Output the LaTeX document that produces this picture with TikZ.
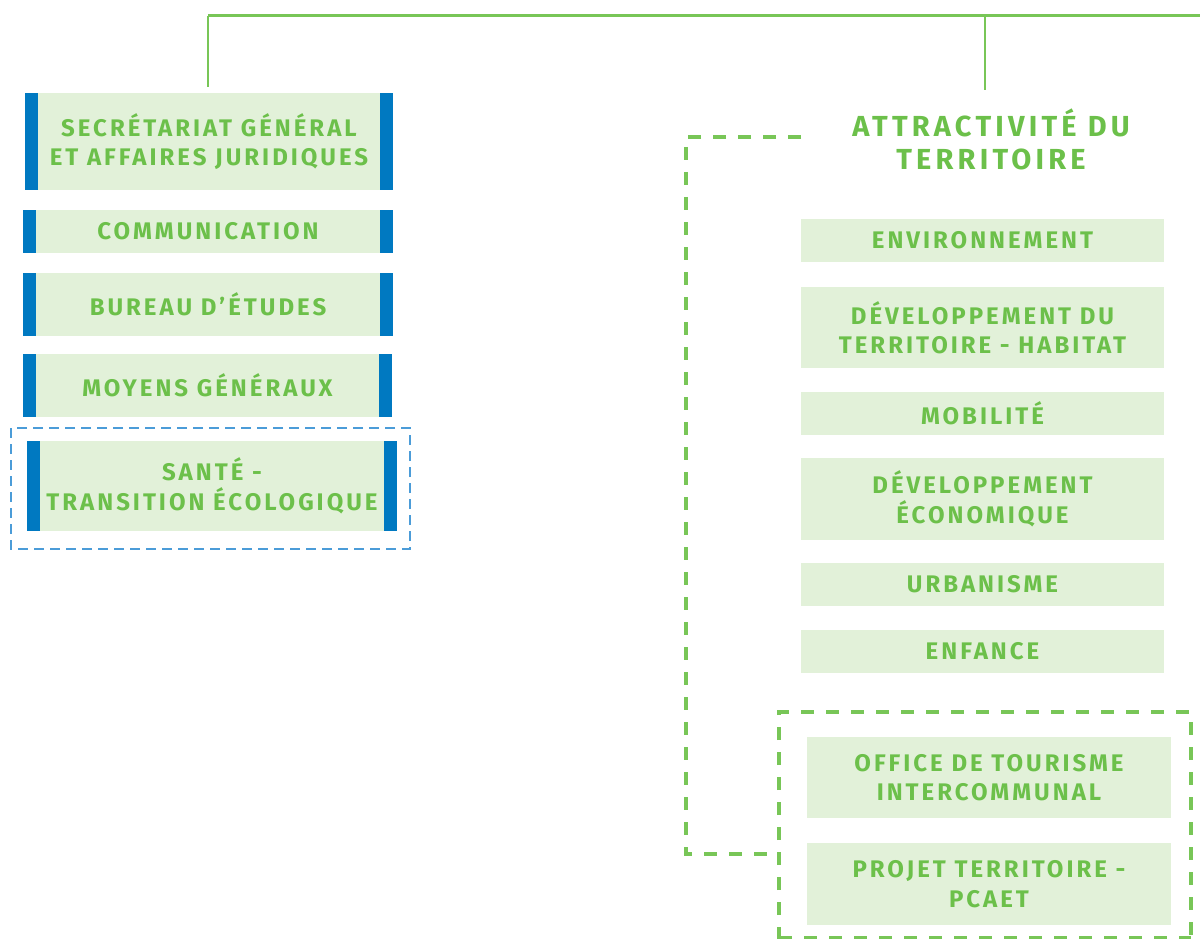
\documentclass[tikz,border=0pt]{standalone}
\usepackage{fontspec}
\setmainfont{Fira Sans}
\newfontfamily\boxfont{Fira Sans}[LetterSpace=12.5]
\newfontfamily\headfont{Fira Sans}[LetterSpace=14.5]
\definecolor{txtgreen}{HTML}{6CC04A}
\definecolor{boxfill}{HTML}{E2F1D9}
\definecolor{barblue}{HTML}{0079C1}
\definecolor{linegreen}{HTML}{78C657}
\definecolor{dashblue}{HTML}{4B9CD8}
\begin{document}
\begin{tikzpicture}[x=1pt,y=-1pt,
  box/.style={fill=boxfill, text=txtgreen, inner sep=0pt, align=center,
    font=\boxfont\bfseries\fontsize{24}{29.5}\selectfont},
  head/.style={text=txtgreen, inner sep=0pt, align=center,
    font=\headfont\bfseries\fontsize{29}{33}\selectfont},
  conn/.style={draw=linegreen, line width=2.5pt},
  gdash/.style={draw=linegreen, line width=3.2pt, dash pattern=on 13pt off 12pt},
  bdash/.style={draw=dashblue, line width=2.7pt, dash pattern=on 10pt off 6pt}]
\useasboundingbox (0,0) rectangle (1200,939);
% left column
\node[box, minimum width=368pt, minimum height=97pt] (sec) at (209,141.5) {SECRÉTARIAT GÉNÉRAL\\ET AFFAIRES JURIDIQUES};
\node[box, minimum width=370pt, minimum height=43pt] (com) at (208,231.5) {COMMUNICATION};
\node[box, minimum width=370pt, minimum height=63pt] (bur) at (208,304.5) {BUREAU D’ÉTUDES};
\node[box, minimum width=369pt, minimum height=63pt] (moy) at (207.5,385.5) {MOYENS GÉNÉRAUX};
\node[box, minimum width=370pt, minimum height=90pt] (san) at (212,486) {SANTÉ -\\TRANSITION ÉCOLOGIQUE};
\foreach \n in {sec,com,bur,moy,san}{
  \fill[barblue] (\n.north west) rectangle ([xshift=13pt]\n.south west);
  \fill[barblue] (\n.north east) rectangle ([xshift=-13pt]\n.south east);
}
\draw[bdash] (11,428) rectangle (410,549);
% right column
\node[head] (att) at (991,139) {ATTRACTIVITÉ DU\\TERRITOIRE};
\node[box, minimum width=363pt, minimum height=43pt] (env) at (982.5,240.5) {ENVIRONNEMENT};
\node[box, minimum width=363pt, minimum height=81pt] (dev) at (982.5,327.5) {DÉVELOPPEMENT DU\\TERRITOIRE - HABITAT};
\node[box, minimum width=363pt, minimum height=43pt] (mob) at (982.5,413.5) {MOBILITÉ};
\node[box, minimum width=363pt, minimum height=82pt] (eco) at (982.5,499) {DÉVELOPPEMENT\\ÉCONOMIQUE};
\node[box, minimum width=363pt, minimum height=43pt] (urb) at (982.5,584.5) {URBANISME};
\node[box, minimum width=363pt, minimum height=43pt] (enf) at (982.5,651.5) {ENFANCE};
\node[box, minimum width=364pt, minimum height=81pt] (off) at (989,777.5) {OFFICE DE TOURISME\\INTERCOMMUNAL};
\node[box, minimum width=364pt, minimum height=82pt] (pro) at (989,884) {PROJET TERRITOIRE -\\PCAET};
% dashed outlines
\draw[gdash] (801,137) -- (686,137) -- (686,854) -- (779,854);
\draw[gdash] (779,940) -- (779,712) -- (1191,712) -- (1191,940);
\draw[gdash] (779,937.5) -- (1191,937.5);
% connectors
\coordinate (tl) at (208,16);
\coordinate (tr) at (1201,16);
\coordinate (tm) at (985,16);
\draw[conn, line width=3pt] (tl) -- (tr);
\draw[conn] (tl) -- ([yshift=6pt]sec.north -| tl);
\draw[conn] (tm) -- (985,90);
\end{tikzpicture}
\end{document}
